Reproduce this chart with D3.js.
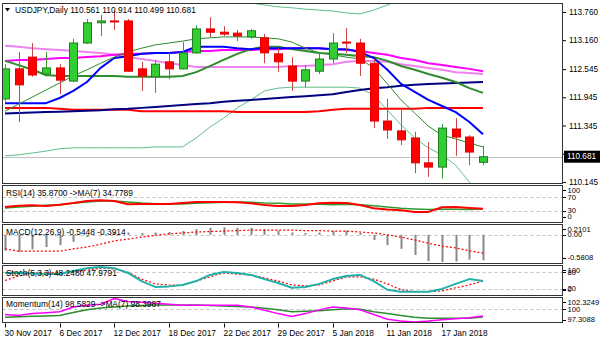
<!DOCTYPE html>
<html><head><meta charset="utf-8">
<script src="https://cdn.jsdelivr.net/npm/d3@7"></script>
<style>
body{margin:0;background:#fff}
svg{display:block}
text{font-family:"Liberation Sans",Arial,sans-serif;font-size:8.4px;fill:#000}
</style></head><body>
<svg id="c" width="600" height="343"></svg>
<script>
const dates = ["30 Nov 2017","1 Dec 2017","4 Dec 2017","5 Dec 2017","6 Dec 2017","7 Dec 2017","8 Dec 2017","11 Dec 2017","12 Dec 2017","13 Dec 2017","14 Dec 2017","15 Dec 2017","18 Dec 2017","19 Dec 2017","20 Dec 2017","21 Dec 2017","22 Dec 2017","26 Dec 2017","27 Dec 2017","28 Dec 2017","29 Dec 2017","2 Jan 2018","3 Jan 2018","4 Jan 2018","5 Jan 2018","8 Jan 2018","9 Jan 2018","10 Jan 2018","11 Jan 2018","12 Jan 2018","15 Jan 2018","16 Jan 2018","17 Jan 2018","18 Jan 2018","19 Jan 2018","22 Jan 2018"];
const xTickLabels = ["30 Nov 2017","6 Dec 2017","12 Dec 2017","18 Dec 2017","22 Dec 2017","29 Dec 2017","5 Jan 2018","11 Jan 2018","17 Jan 2018"];

const open  = [111.91,112.55,112.80,112.44,112.57,112.29,113.10,113.53,113.57,113.57,112.55,112.38,112.70,112.55,112.89,113.40,113.33,113.31,113.23,113.21,112.87,112.61,112.29,112.50,112.76,113.12,113.10,112.67,111.44,111.23,111.08,110.55,110.46,111.27,111.10,110.561];
const high  = [112.65,112.91,113.10,112.91,112.65,113.19,113.61,113.70,113.80,113.61,112.70,112.74,112.89,113.12,113.48,113.65,113.46,113.38,113.40,113.29,112.99,112.80,112.63,112.89,113.31,113.42,113.19,112.76,111.91,111.70,111.21,110.99,111.38,111.50,111.14,110.914];
const low   = [111.85,111.42,112.38,112.38,112.01,112.27,113.08,113.25,113.38,112.48,112.08,112.04,112.33,112.53,112.87,113.23,113.25,113.14,113.19,112.67,112.48,112.08,112.16,112.44,112.67,112.89,112.40,111.29,111.06,110.93,110.33,110.25,110.21,110.70,110.50,110.499];
const close = [112.55,112.21,112.42,112.57,112.31,113.10,113.53,113.57,113.55,112.50,112.40,112.65,112.55,112.89,113.40,113.33,113.29,113.25,113.36,112.89,112.70,112.29,112.53,112.76,113.10,113.10,112.67,111.44,111.25,111.04,110.55,110.46,111.29,111.10,110.78,110.681];

const maFast = [111.65,111.80,111.95,112.10,112.25,112.40,112.53,112.67,112.80,112.91,112.99,113.06,113.10,113.14,113.19,113.21,113.23,113.23,113.23,113.21,113.19,113.12,112.99,112.89,112.85,112.80,112.76,112.57,112.23,111.89,111.61,111.33,111.14,111.06,110.97,110.89];
const maBlue = [111.82,111.82,111.82,111.82,111.93,112.08,112.27,112.57,112.78,112.82,112.87,112.89,112.89,112.91,113.02,113.02,113.02,112.99,112.97,112.99,112.99,112.99,112.99,112.99,112.97,112.97,112.91,112.78,112.53,112.23,112.06,111.89,111.76,111.63,111.42,111.16];
const maGreen = [112.72,112.63,112.53,112.42,112.40,112.40,112.40,112.40,112.40,112.38,112.38,112.38,112.38,112.40,112.48,112.61,112.74,112.87,112.97,113.02,113.02,112.97,112.93,112.89,112.87,112.85,112.82,112.80,112.72,112.61,112.53,112.44,112.36,112.27,112.14,112.04];
const maMagenta = [112.72,112.74,112.74,112.76,112.78,112.78,112.80,112.82,112.85,112.87,112.87,112.89,112.89,112.91,112.93,112.93,112.95,112.95,112.95,112.97,112.97,112.99,112.99,112.99,112.97,112.95,112.93,112.89,112.85,112.78,112.74,112.67,112.63,112.59,112.55,112.50];
const maViolet = [113.04,113.02,112.99,112.97,112.95,112.93,112.91,112.89,112.85,112.80,112.76,112.72,112.67,112.63,112.59,112.59,112.59,112.59,112.59,112.59,112.59,112.61,112.61,112.63,112.65,112.70,112.72,112.72,112.70,112.65,112.61,112.57,112.53,112.48,112.46,112.44];
const maNavy = [111.60,111.61,111.62,111.63,111.64,111.65,111.66,111.67,111.69,111.70,111.72,111.74,111.76,111.78,111.80,111.82,111.85,111.87,111.89,111.91,111.93,111.95,111.97,111.99,112.01,112.06,112.10,112.14,112.16,112.19,112.21,112.23,112.24,112.25,112.26,112.27];
const maRed = [111.72,111.72,111.72,111.72,111.70,111.68,111.68,111.68,111.68,111.68,111.65,111.65,111.65,111.65,111.65,111.65,111.65,111.63,111.63,111.63,111.63,111.63,111.63,111.65,111.68,111.70,111.70,111.70,111.70,111.70,111.70,111.72,111.72,111.72,111.72,111.72];
const bbUpper = [114.35,114.35,114.35,114.30,114.30,114.25,114.25,114.20,114.20,114.15,114.15,114.10,114.10,114.10,114.05,114.05,114.03,114.00,113.95,113.91,113.87,113.85,113.82,113.80,113.78,113.74,113.72,113.80,113.91,114.02,114.15,114.30,114.40,114.50,114.60,114.70];
const bbLower = [110.70,110.72,110.76,110.80,110.85,110.87,110.87,110.87,110.87,110.87,110.87,110.89,110.89,110.89,111.08,111.31,111.50,111.72,111.89,112.08,112.14,112.16,112.16,112.16,112.16,112.16,112.14,111.99,111.67,111.36,111.08,110.87,110.72,110.50,110.14,109.87];

const priceTicks = [113.760,113.160,112.545,111.945,111.345,110.745,110.145];
const lastPrice = 110.681;

const rsi   = [41,45,46,44,48,53,59,61,59,49,50,50,50,53,56,56,56,55,52,47,44,44,47,52,54,53,47,37,33,31,26,26,40,41,38,35.87];
const rsiMA = [38,41,43,46,48,52,56,59,59,56,53,51,50,50,52,54,55,56,55,53,52,50,50,49,48,49,48,45,41,37,35,33,34,34,33,34.7789];
const rsiTicks = [100,70,30,0];

const macd   = [-0.34,-0.37,-0.31,-0.26,-0.22,-0.15,-0.05,0.02,0.06,0.05,0.04,0.05,0.06,0.08,0.12,0.15,0.16,0.15,0.15,0.12,0.09,0.05,0.04,0.05,0.08,0.09,0.04,-0.11,-0.22,-0.30,-0.43,-0.56,-0.5808,-0.57,-0.53,-0.5448];
const macdSignal = [-0.30,-0.35,-0.35,-0.35,-0.35,-0.30,-0.26,-0.20,-0.13,-0.09,-0.05,-0.01,0.02,0.04,0.06,0.07,0.08,0.09,0.10,0.10,0.10,0.10,0.09,0.09,0.08,0.08,0.06,0.04,0.00,-0.05,-0.11,-0.18,-0.24,-0.28,-0.34,-0.3914];
const macdTicks = [0.2101,0,-0.5808];
const macdTickLabels = ["0.2101","0.00","-0.5808"];

const stochK = [76.7,76.7,75,73,73,84,94,98,94,77,48,27,29,34,48,70,80,77,70,55,41,24,27,38,55,66,70,48,17,10,10,10,20,38,55,48.248];
const stochD = [50,66,77,77,77,80,87,94,91,80,55,38,34,34,48,63,77,73,70,59,48,34,31,34,48,63,63,55,38,17,10,10,13,24,34,47.9791];
const stochTicks = [100,80,20,0];

const mom   = [98.9,98.7,99.1,99.3,99.5,100.5,100.9,101.1,102.3249,101.7,101.5,101.3,101.1,100.9,100.9,100.9,100.9,100.9,100.5,99.8,99.1,98.5,99.1,99.9,100.5,100.3,99.9,98.9,97.9,97.5,97.3088,97.5,97.8,98.0,98.2,98.5829];
const momMA = [98.31,98.41,98.51,98.61,98.71,99.32,99.92,100.32,100.52,100.72,100.82,100.92,100.92,100.92,100.92,100.82,100.72,100.62,100.52,100.22,99.92,99.52,99.62,99.72,99.92,100.12,100.02,99.52,99.12,98.71,98.31,98.11,98.11,98.11,98.11,98.3987];
const momTicks = [102.3249,100,97.3088];
const momTickLabels = ["102.3249","100","97.3088"];

// ---------- drawing ----------
const svg = d3.select('#c');
const L = 2.5, R = 562.5;
const xS = d3.scalePoint().domain(dates).range([5, 483]);
const X = i => xS(dates[i]);

const P = {
  main:{top:3.5,bottom:183.5},
  rsi:{top:185.5,bottom:222.5},
  macd:{top:224.5,bottom:263.5},
  stoch:{top:265.5,bottom:295.5},
  mom:{top:297.5,bottom:322.5}
};
const defs = svg.append('defs');
Object.entries(P).forEach(([k,p])=>{
  defs.append('clipPath').attr('id','clip-'+k).append('rect')
    .attr('x',L+0.5).attr('y',p.top+0.5).attr('width',R-L-1).attr('height',p.bottom-p.top-1);
  p.g = svg.append('g').attr('clip-path','url(#clip-'+k+')');
});

const yMain = d3.scaleLinear().domain([110.145,113.76]).range([181.9,12]);
const yRsi = d3.scaleLinear().domain([0,100]).range([220.5,187.5]);
const yMacd = d3.scaleLinear().domain([-0.5808,0.2101]).range([262,225]);
const yStoch = d3.scaleLinear().domain([0,100]).range([294.5,266.5]);
const yMom = d3.scaleLinear().domain([97.3088,102.3249]).range([322,298.5]);

function drawLine(g, vals, y, color, w, dash){
  g.append('path').datum(vals)
    .attr('d', d3.line().x((d,i)=>X(i)).y(d=>y(d)))
    .attr('fill','none').attr('stroke',color).attr('stroke-width',w)
    .attr('stroke-linejoin','round')
    .attr('stroke-dasharray',dash||null);
}
function hLevel(g, y, v){
  g.append('line').attr('x1',L).attr('x2',R).attr('y1',Math.round(y(v))+0.5).attr('y2',Math.round(y(v))+0.5)
   .attr('stroke','#c0c0c0').attr('stroke-width',1).attr('stroke-dasharray','3,3');
}

// main panel
const gm = P.main.g;
gm.append('line').attr('x1',L).attr('x2',R).attr('y1',Math.round(yMain(lastPrice))+0.5).attr('y2',Math.round(yMain(lastPrice))+0.5)
  .attr('stroke','#c0c0c0').attr('stroke-width',1);
drawLine(gm, bbUpper, yMain, '#5cc08a', 1);
drawLine(gm, bbLower, yMain, '#5cc08a', 1);
drawLine(gm, maRed, yMain, '#ff0000', 2);
drawLine(gm, maNavy, yMain, '#000080', 2);
drawLine(gm, maViolet, yMain, '#ee82ee', 2);
drawLine(gm, maMagenta, yMain, '#ff00ff', 2);
drawLine(gm, maGreen, yMain, '#2e8b2e', 2);
drawLine(gm, maBlue, yMain, '#0000ff', 2);
drawLine(gm, maFast, yMain, '#2e8b2e', 1);

const cg = gm.selectAll('g.candle').data(d3.range(dates.length)).join('g').attr('class','candle');
cg.append('line')
  .attr('x1',i=>Math.round(X(i))+0.5).attr('x2',i=>Math.round(X(i))+0.5)
  .attr('y1',i=>yMain(high[i])).attr('y2',i=>yMain(low[i]))
  .attr('stroke',i=>close[i]>=open[i]?'#3a9a3a':'#c84848').attr('stroke-width',1);
cg.append('rect')
  .attr('x',i=>Math.round(X(i))-3.5).attr('width',8)
  .attr('y',i=>Math.min(yMain(open[i]),yMain(close[i])))
  .attr('height',i=>Math.max(1,Math.abs(yMain(open[i])-yMain(close[i]))))
  .attr('fill',i=>close[i]>=open[i]?'#32cd32':'#ff0000')
  .attr('stroke',i=>close[i]>=open[i]?'#1f7f1f':'#e00000').attr('stroke-width',1);

// RSI
const gr = P.rsi.g;
hLevel(gr, yRsi, 70); hLevel(gr, yRsi, 30);
drawLine(gr, rsiMA, yRsi, '#2e9a2e', 1.5);
drawLine(gr, rsi, yRsi, '#ff0000', 2);

// MACD
const gd = P.macd.g;
hLevel(gd, yMacd, 0);
gd.selectAll('rect.h').data(macd).join('rect').attr('class','h')
  .attr('x',(d,i)=>Math.round(X(i))-0.5).attr('width',2)
  .attr('y',d=>Math.min(yMacd(0),yMacd(d))).attr('height',d=>Math.max(1,Math.abs(yMacd(d)-yMacd(0))))
  .attr('fill','#888888');
drawLine(gd, macdSignal, yMacd, '#ff0000', 1.2, '2,2');

// Stoch
const gs = P.stoch.g;
hLevel(gs, yStoch, 80); hLevel(gs, yStoch, 20);
drawLine(gs, stochD, yStoch, '#ff0000', 1.2, '2,2');
drawLine(gs, stochK, yStoch, '#20b2aa', 2);

// Momentum
const go = P.mom.g;
hLevel(go, yMom, 100);
drawLine(go, momMA, yMom, '#2e8b2e', 1.5);
drawLine(go, mom, yMom, '#ff00ff', 1.5);

// frames
Object.values(P).forEach(p=>{
  svg.append('rect').attr('x',L).attr('y',p.top).attr('width',R-L).attr('height',p.bottom-p.top)
    .attr('fill','none').attr('stroke','#333').attr('stroke-width',1);
});

// main right axis
const ax = svg.append('g').attr('transform','translate(563,0)')
  .call(d3.axisRight(yMain).tickValues(priceTicks).tickFormat(d3.format('.3f')).tickSize(3).tickPadding(3));
ax.select('.domain').remove();
ax.selectAll('text').style('font-family','"Liberation Sans",Arial,sans-serif').style('font-size','8.2px');

// price box
const py = yMain(lastPrice);
svg.append('rect').attr('x',564).attr('y',py-6).attr('width',36).attr('height',12).attr('fill','#000');
svg.append('text').attr('x',567).attr('y',py).attr('dy','0.33em').style('fill','#fff').style('font-size','8.2px').text(d3.format('.3f')(lastPrice));

// indicator axes
function indAxis(ticks, labels, y, p, padTop, padBot){
  ticks.forEach((v,k)=>{
    const yy = Math.max(p.top+padTop, Math.min(p.bottom-padBot, y(v)));
    svg.append('line').attr('x1',563).attr('x2',566).attr('y1',Math.round(yy)+0.5).attr('y2',Math.round(yy)+0.5).attr('stroke','#000');
    svg.append('text').attr('x',567.5).attr('y',yy).attr('dy','0.33em').style('font-size','7.6px').text(labels[k]);
  });
}
indAxis(rsiTicks, rsiTicks.map(String), yRsi, P.rsi, 4.5, 6);
indAxis(macdTicks, macdTickLabels, yMacd, P.macd, 4.5, 6);
indAxis(stochTicks, stochTicks.map(String), yStoch, P.stoch, 4.5, 6);
indAxis(momTicks, momTickLabels, yMom, P.mom, 4.5, 3);

// x axis
const xg = svg.append('g').attr('transform','translate(0,'+P.mom.bottom+')');
xTickLabels.forEach(lbl=>{
  const xx = Math.round(xS(lbl))+0.5;
  xg.append('line').attr('x1',xx).attr('x2',xx).attr('y1',1).attr('y2',5).attr('stroke','#000');
  xg.append('text').attr('x',xx-1).attr('y',13).text(lbl);
});

// titles
svg.append('path').attr('d','M5,8 L10,8 L7.5,11.5 Z').attr('fill','#000');
svg.append('text').attr('x',15).attr('y',12.5).text('USDJPY,Daily  '+[open[35],high[35],low[35],close[35]].map(d3.format('.3f')).join(' '));
svg.append('text').attr('x',6).attr('y',196).text('RSI(14) 35.8700  ->MA(7) 34.7789');
svg.append('text').attr('x',6).attr('y',235).text('MACD(12,26,9) -0.5448 -0.3914');
svg.append('text').attr('x',6).attr('y',276).text('Stoch(5,3,3) 48.2480 47.9791');
svg.append('text').attr('x',6).attr('y',307).text('Momentum(14) 98.5829  ->MA(7) 98.3987');
</script></body></html>
